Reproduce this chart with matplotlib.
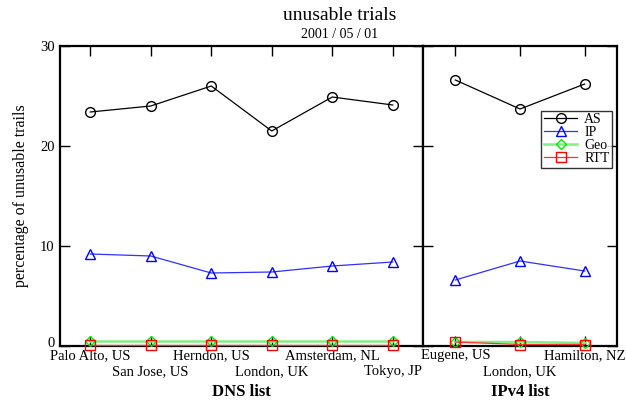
import matplotlib
matplotlib.use("Agg")
import matplotlib.pyplot as plt
import matplotlib.transforms as mtransforms

plt.rcParams['font.family'] = ['Liberation Serif', 'DejaVu Serif']

# sites
dns_sites = ["Palo Alto, US", "San Jose, US", "Herndon, US",
             "London, UK", "Amsterdam, NL", "Tokyo, JP"]
ipv4_sites = ["Eugene, US", "London, UK", "Hamilton, NZ"]

# percentage of unusable trials
dns_as = [23.4, 24.0, 26.0, 21.5, 24.9, 24.1]
dns_ip = [9.2, 9.0, 7.3, 7.4, 8.0, 8.4]
dns_geo = [0.5, 0.5, 0.5, 0.5, 0.5, 0.5]
dns_rtt = [0.15, 0.15, 0.15, 0.15, 0.15, 0.15]

ipv4_as = [26.6, 23.7, 26.2]
ipv4_ip = [6.6, 8.5, 7.5]
ipv4_geo = [0.4, 0.4, 0.3]
ipv4_rtt = [0.4, 0.15, 0.15]

# name, marker colour, line colour, marker, size, line width
series = [("AS", "black", "black", "o", 7, 0.9),
          ("IP", "blue", "#3030ff", "^", 6.5, 0.9),
          ("Geo", "#00ee00", "#80f080", "D", 5, 1.8),
          ("RTT", "red", "#ff3030", "s", 6.5, 0.9)]

fig = plt.figure(figsize=(6.26, 4.0), dpi=100)
ax1 = fig.add_axes([60/626, 54/400, 363/626, 300/400])
ax2 = fig.add_axes([423/626, 54/400, 194/626, 300/400])

def draw(ax, sites, data):
    x = [i + 0.5 for i in range(len(sites))]
    for vals, (name, mc, lc, mk, ms, lw) in zip(data, series):
        ax.plot(x, vals, color=lc, marker=mk, mfc="none", mec=mc, mew=1,
                ms=ms, lw=lw, label=name, clip_on=False, zorder=3)
    ax.set_xlim(0, len(sites))
    ax.set_ylim(0, 30)
    ax.set_xticks(x)
    ax.set_xticklabels(sites, fontsize=10.5)
    ax.tick_params(direction="in", top=True, right=True, length=7, width=1,
                   pad=2.5)
    for i, t in enumerate(ax.xaxis.get_major_ticks()):
        if i % 2 == 1:
            t.set_pad(14)
    for sp in ax.spines.values():
        sp.set_linewidth(1.6)

draw(ax1, dns_sites, [dns_as, dns_ip, dns_geo, dns_rtt])
draw(ax2, ipv4_sites, [ipv4_as, ipv4_ip, ipv4_geo, ipv4_rtt])

ax1.set_yticks([0, 10, 20, 30])
ax1.set_yticklabels(["0", "10", "20", "30"], fontsize=10.5)
ax1.tick_params(axis="y", pad=4)
ax2.set_yticks([0, 10, 20, 30])
ax2.set_yticklabels([])

# lift the "0" a little so it clears the first site name
zero = ax1.get_yticklabels()[0]
zero.set_transform(zero.get_transform() +
                   mtransforms.ScaledTranslation(0, 3/72, fig.dpi_scale_trans))

ax1.set_ylabel("percentage of unusable trails", fontsize=11.5, labelpad=8)
ax1.set_xlabel("DNS list", fontsize=12, fontweight="bold", labelpad=4)
ax2.set_xlabel("IPv4 list", fontsize=12, fontweight="bold", labelpad=4)

leg = ax2.legend(loc="upper right", bbox_to_anchor=(0.975, 0.785), fontsize=10,
                 frameon=True, fancybox=False, edgecolor="black",
                 handlelength=2.4, borderpad=0.2, labelspacing=0.0,
                 handletextpad=0.5, borderaxespad=0)
leg.get_frame().set_linewidth(1)

fig.text(340/626, 1 - 16/400, "unusable trials", ha="center", va="center",
         fontsize=14)
fig.text(340/626, 1 - 34/400, "2001 / 05 / 01", ha="center", va="center",
         fontsize=10)

fig.savefig("out.png", dpi=100)
